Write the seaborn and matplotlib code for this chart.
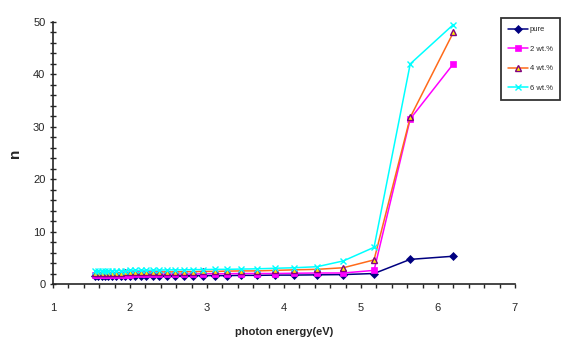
import numpy as np
import pandas as pd
import matplotlib
matplotlib.use("Agg")
import matplotlib.pyplot as plt
import seaborn as sns
from matplotlib.ticker import MultipleLocator

# photon energy (eV) for wavelengths 200..800 nm
energy = [6.2, 5.64, 5.17, 4.77, 4.43, 4.13, 3.88, 3.65, 3.44, 3.26, 3.1,
          2.95, 2.82, 2.7, 2.58, 2.48, 2.38, 2.3, 2.21, 2.14, 2.07,
          2.0, 1.94, 1.88, 1.82, 1.77, 1.72, 1.68, 1.63, 1.59, 1.55]

n_pure = [5.3, 4.7, 2.0, 1.8, 1.75, 1.7, 1.7, 1.65, 1.65, 1.6, 1.6,
          1.6, 1.6, 1.55, 1.55, 1.55, 1.5, 1.5, 1.5, 1.5, 1.5,
          1.5, 1.5, 1.5, 1.45, 1.45, 1.45, 1.45, 1.45, 1.45, 1.45]
n_2wt = [42.0, 31.5, 2.6, 2.1, 2.1, 2.05, 2.0, 2.0, 2.0, 1.95, 1.95,
         1.95, 1.9, 1.9, 1.9, 1.9, 1.85, 1.85, 1.85, 1.85, 1.85,
         1.8, 1.8, 1.8, 1.8, 1.8, 1.8, 1.8, 1.8, 1.8, 1.8]
n_4wt = [48.0, 31.8, 4.6, 3.1, 2.8, 2.7, 2.6, 2.5, 2.5, 2.45, 2.4,
         2.4, 2.35, 2.35, 2.3, 2.3, 2.3, 2.25, 2.25, 2.2, 2.2,
         2.2, 2.2, 2.15, 2.15, 2.15, 2.1, 2.1, 2.1, 2.1, 2.1]
n_6wt = [49.5, 42.0, 7.0, 4.4, 3.3, 3.1, 3.0, 2.9, 2.85, 2.8, 2.8,
         2.75, 2.75, 2.7, 2.7, 2.7, 2.65, 2.65, 2.6, 2.6, 2.6,
         2.6, 2.55, 2.55, 2.55, 2.5, 2.5, 2.5, 2.5, 2.5, 2.5]

labels = ["pure", "2 wt.%", "4 wt.%", "6 wt.%"]

df = pd.DataFrame({
    "energy": energy * 4,
    "n": n_pure + n_2wt + n_4wt + n_6wt,
    "sample": sum([[lab] * len(energy) for lab in labels], []),
})

sns.set_style("ticks")
plt.rcParams["font.family"] = ["Liberation Sans", "DejaVu Sans"]

fig = plt.figure(figsize=(5.64, 3.43), dpi=100)
ax = fig.add_axes([0.094, 0.172, 0.819, 0.764])

styles = {
    "pure": dict(color="#000080", marker="D", ms=4.5, mfc="#000080", mec="#000080"),
    "2 wt.%": dict(color="#ff00ff", marker="s", ms=4, mfc="#ff00ff", mec="#ff00ff"),
    "4 wt.%": dict(color="#ff6a1a", marker="^", ms=5, mfc="#ffee00", mec="#800080", mew=1.0),
    "6 wt.%": dict(color="#00ffff", marker="x", ms=5, mec="#00ffff", mew=1.0),
}

for lab in labels:
    sub = df[df["sample"] == lab]
    st = styles[lab]
    sns.lineplot(data=sub, x="energy", y="n", ax=ax, sort=False,
                 color=st["color"], marker=st["marker"], markersize=st["ms"],
                 markerfacecolor=st.get("mfc", st["color"]),
                 markeredgecolor=st["mec"], markeredgewidth=st.get("mew", 0.5),
                 linewidth=1.1, label=lab)

ax.set_xlim(1, 7)
ax.set_ylim(0, 50)
ax.xaxis.set_major_locator(MultipleLocator(1))
ax.xaxis.set_minor_locator(MultipleLocator(0.2))
ax.yaxis.set_major_locator(MultipleLocator(10))
ax.yaxis.set_minor_locator(MultipleLocator(2))
ax.tick_params(axis="x", which="both", direction="out", length=3, width=1, labelsize=8, pad=11)
ax.tick_params(axis="y", which="both", direction="inout", length=4, width=1, labelsize=8)
sns.despine(ax=ax)
for sp in ["left", "bottom"]:
    ax.spines[sp].set_linewidth(1.2)

ax.set_xlabel("photon energy(eV)", fontsize=8, fontweight="bold", labelpad=10)
ax.set_ylabel("n", fontsize=11, fontweight="bold", labelpad=8)

ax.get_legend().remove()
handles, lbls = ax.get_legend_handles_labels()
leg = fig.legend(handles, lbls, loc="upper left", bbox_to_anchor=(0.881, 0.958),
                 fontsize=5.5, frameon=True, fancybox=False, handlelength=2.6,
                 borderpad=1.0, labelspacing=1.6, handletextpad=0.2)
leg.get_frame().set_edgecolor("black")
leg.get_frame().set_linewidth(1.3)

fig.savefig("out.png", dpi=100)
